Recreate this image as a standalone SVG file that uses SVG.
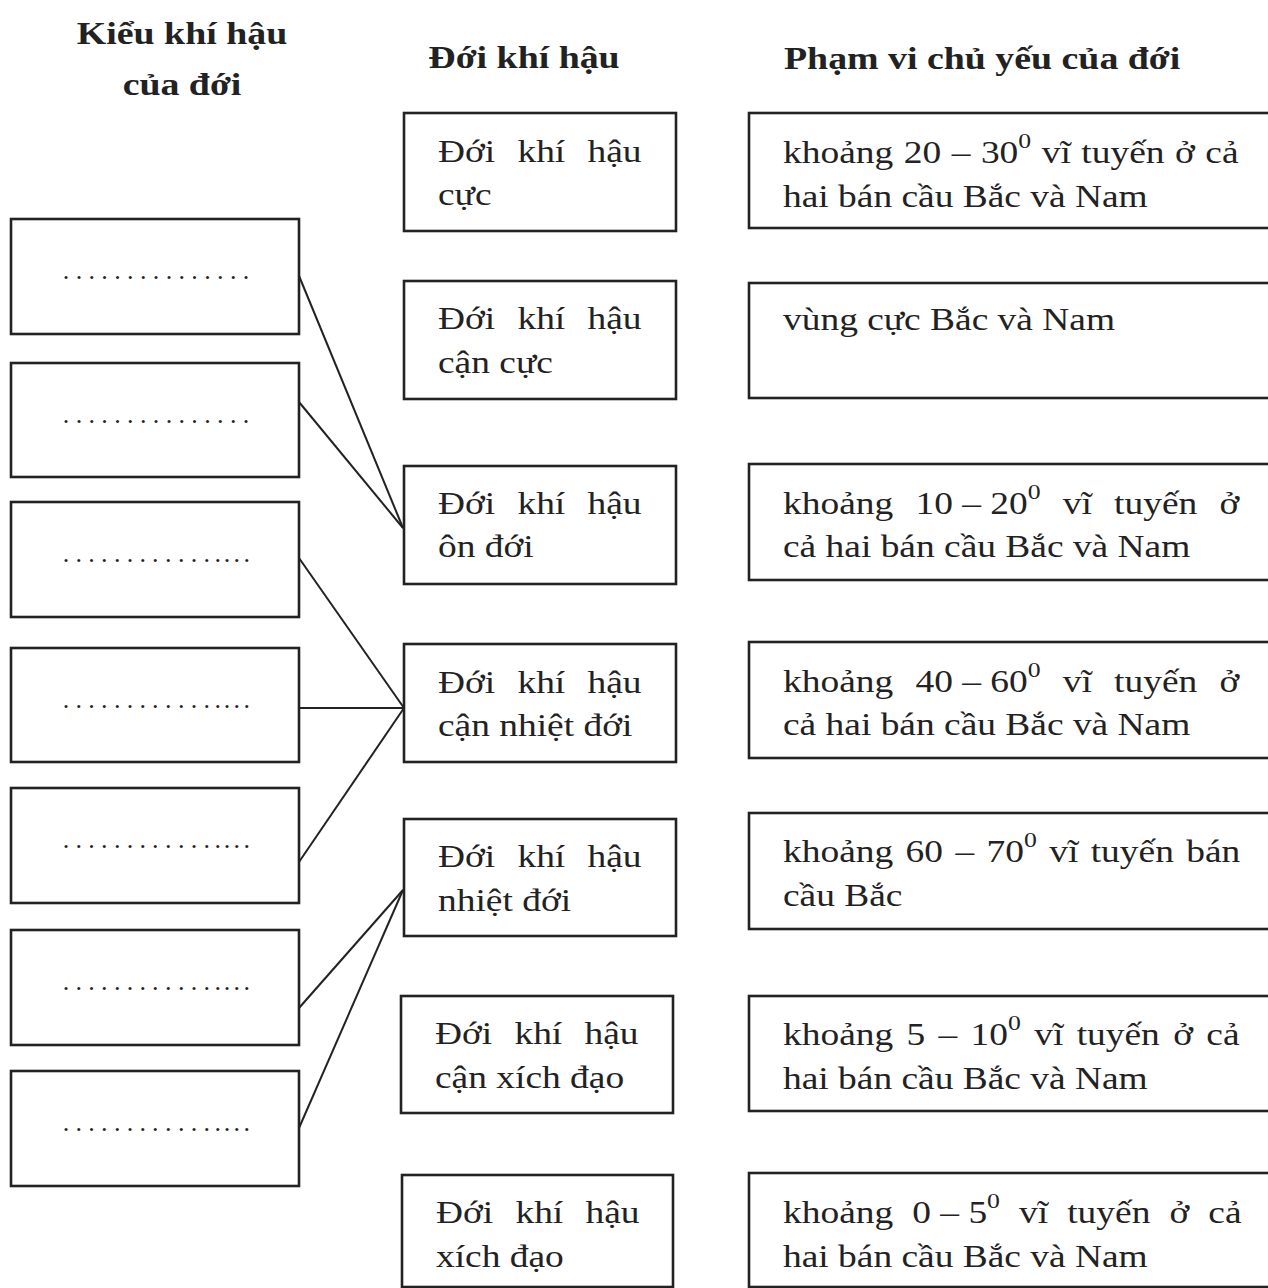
<svg xmlns="http://www.w3.org/2000/svg" width="1268" height="1288" viewBox="0 0 1268 1288">
<style>
.bg{fill:#ffffff}
.box{fill:#ffffff;stroke:#222;stroke-width:2.6}
.t{font-family:"Liberation Serif","Times New Roman",serif;font-size:32px;fill:#222}
.j{word-spacing:11px}
.h{font-family:"Liberation Serif","Times New Roman",serif;font-size:32.5px;font-weight:bold;fill:#222}
.sup{font-size:22px}
.dots{font-family:"Liberation Serif","Times New Roman",serif;font-size:26px;fill:#222;text-anchor:middle}
.conn line{stroke:#222;stroke-width:2;fill:none}
</style>
<rect class="bg" x="0" y="0" width="1268" height="1288"/>

<g id="headers">
<text class="h" text-anchor="middle" transform="translate(182,44) scale(1.165 1)">Kiểu khí hậu</text>
<text class="h" text-anchor="middle" transform="translate(182,95) scale(1.165 1)">của đới</text>
<text class="h" text-anchor="middle" transform="translate(524,68) scale(1.165 1)">Đới khí hậu</text>
<text class="h" transform="translate(784,69) scale(1.165 1)">Phạm vi chủ yếu của đới</text>
</g>

<g id="conn" class="conn">
<line x1="297" y1="271" x2="403" y2="528"/>
<line x1="299" y1="402" x2="403" y2="528"/>
<line x1="299" y1="558" x2="404" y2="708"/>
<line x1="299" y1="708" x2="404" y2="708"/>
<line x1="299" y1="862" x2="404" y2="708"/>
<line x1="299" y1="1008" x2="403" y2="890"/>
<line x1="299" y1="1128" x2="403" y2="890"/>
</g>

<g id="kieu1"><rect class="box" x="11" y="219" width="288" height="115"/>
<text class="dots" x="66 78.9 91.7 104.6 117.4 130.3 143.2 156 168.9 181.7 194.6 207.5 220.3 233.2 246" y="279">...............</text></g>
<g id="kieu2"><rect class="box" x="11" y="363" width="288" height="114"/>
<text class="dots" x="66 78.9 91.7 104.6 117.4 130.3 143.2 156 168.9 181.7 194.6 207.5 220.3 233.2 246" y="423">...............</text></g>
<g id="kieu3"><rect class="box" x="11" y="502" width="288" height="115"/>
<text class="dots" x="66 78.8 91.6 104.3 117.3 130 142.7 155.3 168.3 181.3 194 206.7 217.7 227 236.7 246.7" y="562">................</text></g>
<g id="kieu4"><rect class="box" x="11" y="648" width="288" height="114"/>
<text class="dots" x="66 78.8 91.6 104.3 117.3 130 142.7 155.3 168.3 181.3 194 206.7 217.7 227 236.7 246.7" y="708">................</text></g>
<g id="kieu5"><rect class="box" x="11" y="788" width="288" height="115"/>
<text class="dots" x="66 78.8 91.6 104.3 117.3 130 142.7 155.3 168.3 181.3 194 206.7 217.7 227 236.7 246.7" y="848">................</text></g>
<g id="kieu6"><rect class="box" x="11" y="930" width="288" height="115"/>
<text class="dots" x="66 78.8 91.6 104.3 117.3 130 142.7 155.3 168.3 181.3 194 206.7 217.7 227 236.7 246.7" y="990">................</text></g>
<g id="kieu7"><rect class="box" x="11" y="1071" width="288" height="115"/>
<text class="dots" x="66 78.8 91.6 104.3 117.3 130 142.7 155.3 168.3 181.3 194 206.7 217.7 227 236.7 246.7" y="1131">................</text></g>

<g id="doi1"><rect class="box" x="404" y="113" width="272" height="118"/>
<text class="t j" transform="translate(438,162) scale(1.17 1)">Đới khí hậu</text>
<text class="t" transform="translate(438,205) scale(1.17 1)">cực</text></g>
<g id="doi2"><rect class="box" x="404" y="281" width="272" height="118"/>
<text class="t j" transform="translate(438,329) scale(1.17 1)">Đới khí hậu</text>
<text class="t" transform="translate(438,373) scale(1.17 1)">cận cực</text></g>
<g id="doi3"><rect class="box" x="404" y="466" width="272" height="118"/>
<text class="t j" transform="translate(438,514) scale(1.17 1)">Đới khí hậu</text>
<text class="t" transform="translate(438,557) scale(1.17 1)">ôn đới</text></g>
<g id="doi4"><rect class="box" x="404" y="644" width="272" height="118"/>
<text class="t j" transform="translate(438,693) scale(1.17 1)">Đới khí hậu</text>
<text class="t" transform="translate(438,736) scale(1.17 1)">cận nhiệt đới</text></g>
<g id="doi5"><rect class="box" x="404" y="819" width="272" height="117"/>
<text class="t j" transform="translate(438,867) scale(1.17 1)">Đới khí hậu</text>
<text class="t" transform="translate(438,911) scale(1.17 1)">nhiệt đới</text></g>
<g id="doi6"><rect class="box" x="401" y="996" width="272" height="117"/>
<text class="t j" transform="translate(435,1044) scale(1.17 1)">Đới khí hậu</text>
<text class="t" transform="translate(435,1088) scale(1.17 1)">cận xích đạo</text></g>
<g id="doi7"><rect class="box" x="402" y="1175" width="271" height="112"/>
<text class="t j" transform="translate(436,1223) scale(1.17 1)">Đới khí hậu</text>
<text class="t" transform="translate(436,1267) scale(1.17 1)">xích đạo</text></g>

<g id="pham1"><rect class="box" x="749" y="113" width="540" height="115"/>
<text class="t" style="word-spacing:1px" transform="translate(783,163) scale(1.17 1)">khoảng 20 – 30<tspan class="sup" dy="-15">0</tspan><tspan dy="15"> vĩ tuyến ở cả</tspan></text>
<text class="t" transform="translate(783,207) scale(1.17 1)">hai bán cầu Bắc và Nam</text></g>
<g id="pham2"><rect class="box" x="749" y="283" width="540" height="115"/>
<text class="t" transform="translate(783,330) scale(1.17 1)">vùng cực Bắc và Nam</text></g>
<g id="pham3"><rect class="box" x="749" y="464" width="540" height="116"/>
<text class="t j" transform="translate(783,514) scale(1.17 1)">khoảng <tspan style="word-spacing:0">10 – 20</tspan><tspan class="sup" dy="-15">0</tspan><tspan dy="15"> vĩ tuyến ở</tspan></text>
<text class="t" transform="translate(783,557) scale(1.17 1)">cả hai bán cầu Bắc và Nam</text></g>
<g id="pham4"><rect class="box" x="749" y="642" width="540" height="116"/>
<text class="t j" transform="translate(783,692) scale(1.17 1)">khoảng <tspan style="word-spacing:0">40 – 60</tspan><tspan class="sup" dy="-15">0</tspan><tspan dy="15"> vĩ tuyến ở</tspan></text>
<text class="t" transform="translate(783,735) scale(1.17 1)">cả hai bán cầu Bắc và Nam</text></g>
<g id="pham5"><rect class="box" x="749" y="813" width="540" height="116"/>
<text class="t" style="word-spacing:2.6px" transform="translate(783,862) scale(1.17 1)">khoảng 60 – 70<tspan class="sup" dy="-15">0</tspan><tspan dy="15"> vĩ tuyến bán</tspan></text>
<text class="t" transform="translate(783,906) scale(1.17 1)">cầu Bắc</text></g>
<g id="pham6"><rect class="box" x="749" y="996" width="540" height="115"/>
<text class="t" style="word-spacing:3.4px" transform="translate(783,1045) scale(1.17 1)">khoảng 5 – 10<tspan class="sup" dy="-15">0</tspan><tspan dy="15"> vĩ tuyến ở cả</tspan></text>
<text class="t" transform="translate(783,1089) scale(1.17 1)">hai bán cầu Bắc và Nam</text></g>
<g id="pham7"><rect class="box" x="749" y="1173" width="540" height="114"/>
<text class="t" style="word-spacing:8.3px" transform="translate(783,1223) scale(1.17 1)">khoảng <tspan style="word-spacing:0">0 – 5</tspan><tspan class="sup" dy="-15">0</tspan><tspan dy="15"> vĩ tuyến ở cả</tspan></text>
<text class="t" transform="translate(783,1267) scale(1.17 1)">hai bán cầu Bắc và Nam</text></g>
</svg>
